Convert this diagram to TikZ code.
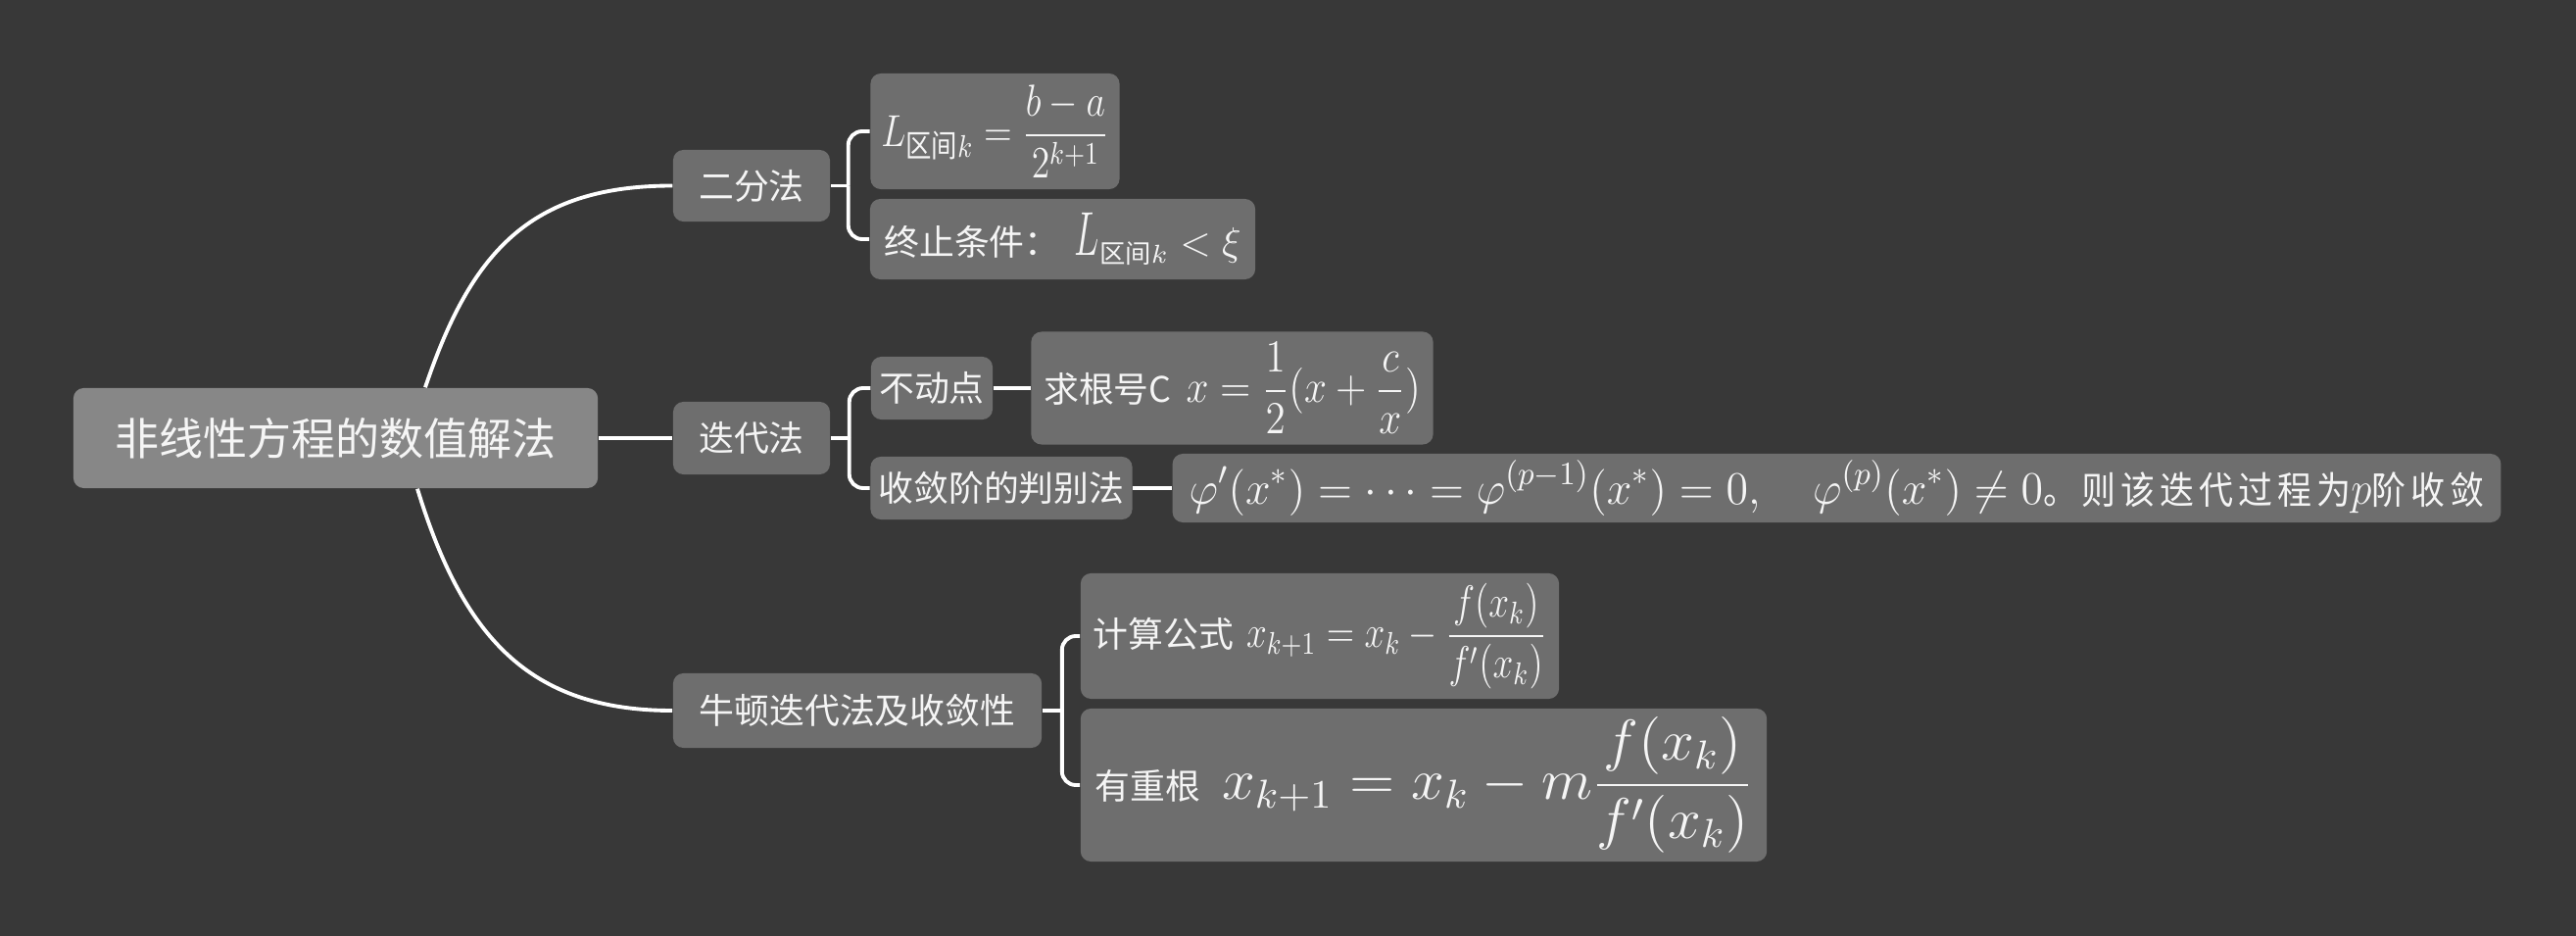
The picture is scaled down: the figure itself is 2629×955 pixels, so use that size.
\documentclass[tikz,border=0pt]{standalone}
\usepackage{fix-cm}
\usepackage{amsmath,amssymb,graphicx}
\usepackage[no-math]{fontspec}
\newfontfamily\cjk{Noto Sans CJK SC}
\newfontfamily\cjkwide[LetterSpace=14]{Noto Sans CJK SC}
\usetikzlibrary{positioning, calc}

\definecolor{bgcol}{RGB}{56,56,56}
\definecolor{rootcol}{RGB}{135,135,135}
\definecolor{boxcol}{RGB}{110,110,110}
\definecolor{txtcol}{RGB}{245,245,245}

\newcommand{\qj}{\text{\cjk 区间}}
\newcommand{\mathfit}[3]{{\fontsize{#1}{#1}\selectfont\resizebox{#2}{\height}{$\displaystyle #3$}}}

\begin{document}
\begin{tikzpicture}[
    x=0.01cm, y=-0.01cm,
    link/.style={draw=white, line width=1.1pt},
    box/.style={fill=boxcol, text=txtcol, rounded corners=3pt, inner sep=0pt,
        font=\cjk\fontsize{10.2}{12}\selectfont},
    rootbox/.style={box, fill=rootcol, font=\cjk\fontsize{12.8}{15}\selectfont}
]
\fill[bgcol] (0,0) rectangle (2629,955);
\useasboundingbox (0,0) rectangle (2629,955);

% --- Root ---
\node[rootbox, minimum width=5.35cm, minimum height=1.02cm] (root) at (342.5,447) {非线性方程的数值解法};

% --- First level ---
\node[box, minimum width=1.6cm, minimum height=0.73cm] (bisect) at (767,189.5) {二分法};
\node[box, minimum width=1.6cm, minimum height=0.74cm] (iter) at (767,447) {迭代法};
\node[box, minimum width=3.76cm, minimum height=0.76cm] (newton) at (875,725) {牛顿迭代法及收敛性};

% --- Bisection ---
\node[box, minimum width=2.54cm, minimum height=1.18cm] (len) at (1015.5,134)
    {\mathfit{13}{2.32cm}{L_{\qj k}=\frac{b-a}{2^{k+1}}}};
\node[box, minimum width=3.93cm, minimum height=0.82cm] (stop) at (1084.5,244)
    {终止条件：\hspace{0.15cm}{\fontsize{11.5}{14}\selectfont$\scalebox{0.6}[1]{\fontsize{18}{20}\selectfont$L$}_{\mbox{\fontsize{7.5}{8}\selectfont\cjk 区间$k$}}<\xi$}};

% --- Iteration ---
\node[box, minimum width=1.24cm, minimum height=0.64cm] (fixed) at (951,396) {不动点};
\node[box, minimum width=4.1cm, minimum height=1.15cm] (sqrtc) at (1257.5,396)
    {求根号C\hspace{0.15cm}\mathfit{13.3}{2.39cm}{x=\frac{1}{2}(x+\frac{c}{x})}};
\node[box, minimum width=2.67cm, minimum height=0.64cm] (order) at (1022,498) {收敛阶的判别法};
\node[box, minimum width=13.55cm, minimum height=0.7cm] (phi) at (1874.5,498)
    {\mathfit{13.5}{8.71cm}{\varphi'(x^*)=\cdots=\varphi^{(p-1)}(x^*)=0,\quad \varphi^{(p)}(x^*)\neq 0}%
     \resizebox{4.5cm}{\height}{{\cjkwide\fontsize{11}{13}\selectfont 。则该迭代过程为}{\fontsize{13.5}{16}\selectfont$p$}{\cjkwide\fontsize{11}{13}\selectfont 阶收敛}}};

% --- Newton ---
\node[box, minimum width=4.88cm, minimum height=1.28cm] (formula) at (1347,649)
    {计算公式\hspace{0.13cm}\mathfit{13}{3.06cm}{x_{k+1}=x_k-\frac{f(x_k)}{f'(x_k)}}};
\node[box, minimum width=7cm, minimum height=1.56cm] (multi) at (1453,801)
    {有重根\hspace{0.22cm}\mathfit{16.7}{5.41cm}{x_{k+1}=x_k-m\frac{f(x_k)}{f'(x_k)}}};

% Root branches
\draw[link] ($(root.north)+(91.5,0)$) .. controls +(46,-136) and +(-147,0) .. (bisect.west);
\draw[link] (root.east) -- (iter.west);
\draw[link] ($(root.south)+(83.5,0)$) .. controls +(46,150) and +(-147,0) .. (newton.west);

% Brackets
\draw[link] (bisect.east) -- ++(18,0) coordinate (bj);
\draw[link, rounded corners=4pt] (len.west) -| (bj);
\draw[link, rounded corners=4pt] (stop.west) -| (bj);

\draw[link] (iter.east) -- ++(19,0) coordinate (ij);
\draw[link, rounded corners=4pt] (fixed.west) -| (ij);
\draw[link, rounded corners=4pt] (order.west) -| (ij);
\draw[link] (fixed.east) -- (sqrtc.west);
\draw[link] (order.east) -- (phi.west);

\draw[link] (newton.east) -- ++(20,0) coordinate (nj);
\draw[link, rounded corners=4pt] (formula.west) -| (nj);
\draw[link, rounded corners=4pt] (multi.west) -| (nj);

\end{tikzpicture}
\end{document}
